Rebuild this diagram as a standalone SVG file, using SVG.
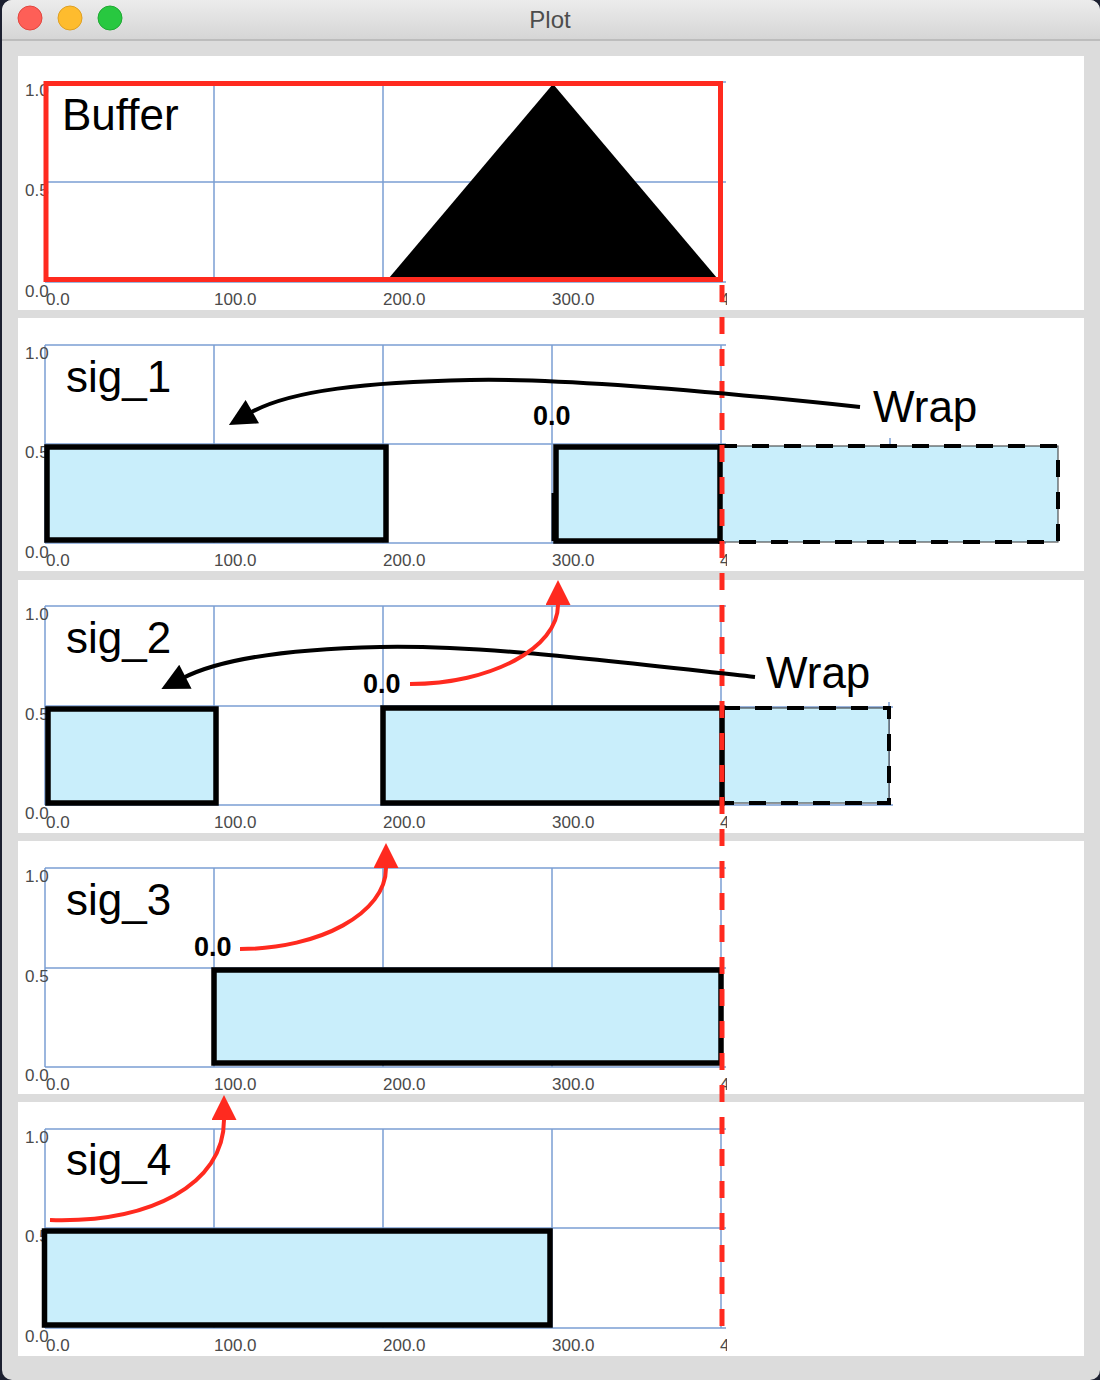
<svg xmlns="http://www.w3.org/2000/svg" width="1100" height="1380" viewBox="0 0 1100 1380">
<style>
.grid{stroke:#7b9fd3;stroke-width:1.5;fill:none}
.ax{font-family:"Liberation Sans",Arial,sans-serif;font-size:17px;fill:#4a4a4a}
.ttl{font-family:"Liberation Sans",Arial,sans-serif;font-size:44px;fill:#000}
.bold{font-family:"Liberation Sans",Arial,sans-serif;font-size:27px;font-weight:bold;fill:#000}
.panel{fill:#fff}
.sig{fill:#c9eefb;stroke:#000;stroke-width:5.5}
.ghost{fill:#c9eefb;stroke:#333;stroke-width:1}
.dash{fill:none;stroke:#000;stroke-width:4;stroke-dasharray:17 15}
.red{fill:none;stroke:#ff2a1f;stroke-width:4}
.blk{fill:none;stroke:#000;stroke-width:4}
</style>
<defs>
<linearGradient id="tb" x1="0" y1="0" x2="0" y2="1">
<stop offset="0" stop-color="#ececec"/>
<stop offset="1" stop-color="#d5d5d5"/>
</linearGradient>
<marker id="ra" viewBox="0 0 10 10" refX="0" refY="5" markerUnits="userSpaceOnUse" markerWidth="25" markerHeight="25" orient="auto">
<path d="M0,0 L10,5 L0,10 z" fill="#ff2a1f"/>
</marker>
<marker id="ba" viewBox="0 0 10 10" refX="1" refY="5" markerUnits="userSpaceOnUse" markerWidth="28" markerHeight="27" orient="auto">
<path d="M0,0 L10,5 L0,10 z" fill="#000"/>
</marker>
<clipPath id="cl"><rect x="0" y="0" width="727" height="1380"/></clipPath>
</defs>

<rect x="0" y="0" width="1100" height="1380" fill="#1c2030"/>
<rect x="2" y="0" width="1098" height="1380" rx="10" fill="#dcdcdc"/>
<path d="M2,40 V10 A10,10 0 0 1 12,0 H1090 A10,10 0 0 1 1100,10 V40 Z" fill="url(#tb)"/>
<line x1="2" y1="40" x2="1100" y2="40" stroke="#b3b3b3" stroke-width="1.5"/>
<circle cx="30" cy="18" r="12" fill="#fe5f57" stroke="#e2463f" stroke-width="1"/>
<circle cx="70" cy="18" r="12" fill="#febc2e" stroke="#dfa023" stroke-width="1"/>
<circle cx="110" cy="18" r="12" fill="#28c840" stroke="#1ea932" stroke-width="1"/>
<text x="550" y="28" text-anchor="middle" font-family="'Liberation Sans',Arial,sans-serif" font-size="24" fill="#4d4d4d">Plot</text>

<!-- Panel 1: Buffer -->
<g id="buffer">
<rect class="panel" x="18" y="56" width="1066" height="254"/>
<path class="grid" d="M45,82V282M214,82V282M383,82V282M552,82V282M721,82V282M45,82H726M45,182H726M45,282H726"/>
<text class="ax" x="25" y="96">1.0</text>
<text class="ax" x="25" y="196">0.5</text>
<text class="ax" x="25" y="297">0.0</text>
<text class="ax" x="46" y="305">0.0</text>
<text class="ax" x="214" y="305">100.0</text>
<text class="ax" x="383" y="305">200.0</text>
<text class="ax" x="552" y="305">300.0</text>
<text class="ax" x="720" y="305" clip-path="url(#cl)">4</text>
<polygon points="389,278 553,84 717,278" fill="#000"/>
<rect x="46" y="83.5" width="674.5" height="196" fill="none" stroke="#ff2a1f" stroke-width="5"/>
<text class="ttl" x="62" y="130">Buffer</text>
</g>

<!-- Panel 2: sig_1 -->
<g id="sig_1">
<rect class="panel" x="18" y="318" width="1066" height="253"/>
<path class="grid" d="M45,345V543M214,345V543M383,345V543M552,345V543M721,345V543M45,345H726M45,444H726M45,543H726M890,438V446"/>
<text class="ax" x="25" y="359">1.0</text>
<text class="ax" x="25" y="458">0.5</text>
<text class="ax" x="25" y="558">0.0</text>
<text class="ax" x="46" y="566">0.0</text>
<text class="ax" x="214" y="566">100.0</text>
<text class="ax" x="383" y="566">200.0</text>
<text class="ax" x="552" y="566">300.0</text>
<text class="ax" x="720" y="566" clip-path="url(#cl)">4</text>
<rect class="sig" x="47" y="447" width="339" height="93"/>
<rect class="ghost" x="720" y="446" width="338" height="96"/>
<rect class="dash" x="720" y="446" width="338" height="96"/>
<rect class="sig" x="556" y="447" width="164" height="94"/>
<line x1="553" y1="493" x2="553" y2="541" stroke="#000" stroke-width="3"/>
<text class="ttl" x="66" y="392">sig_1</text>
<text class="ttl" x="873" y="422">Wrap</text>
<text class="bold" x="533" y="425">0.0</text>
</g>

<!-- Panel 3: sig_2 -->
<g id="sig_2">
<rect class="panel" x="18" y="580" width="1066" height="253"/>
<path class="grid" d="M45,606V805M214,606V805M383,606V805M552,606V805M721,606V805M45,606H726M45,706H726M45,805H726M722,707H893M722,805H893M889,702V805"/>
<text class="ax" x="25" y="620">1.0</text>
<text class="ax" x="25" y="720">0.5</text>
<text class="ax" x="25" y="819">0.0</text>
<text class="ax" x="46" y="828">0.0</text>
<text class="ax" x="214" y="828">100.0</text>
<text class="ax" x="383" y="828">200.0</text>
<text class="ax" x="552" y="828">300.0</text>
<text class="ax" x="720" y="828" clip-path="url(#cl)">4</text>
<rect class="sig" x="48" y="709" width="168" height="94"/>
<rect class="ghost" x="723" y="708" width="166" height="95"/>
<rect class="dash" x="723" y="708" width="166" height="95"/>
<rect class="sig" x="383" y="708" width="339" height="95"/>
<text class="ttl" x="66" y="653">sig_2</text>
<text class="ttl" x="766" y="688">Wrap</text>
<text class="bold" x="363" y="693">0.0</text>
</g>

<!-- Panel 4: sig_3 -->
<g id="sig_3">
<rect class="panel" x="18" y="841" width="1066" height="253"/>
<path class="grid" d="M45,868V1067M214,868V1067M383,868V1067M552,868V1067M721,868V1067M45,868H726M45,968H726M45,1067H726"/>
<text class="ax" x="25" y="882">1.0</text>
<text class="ax" x="25" y="982">0.5</text>
<text class="ax" x="25" y="1081">0.0</text>
<text class="ax" x="46" y="1090">0.0</text>
<text class="ax" x="214" y="1090">100.0</text>
<text class="ax" x="383" y="1090">200.0</text>
<text class="ax" x="552" y="1090">300.0</text>
<text class="ax" x="720" y="1090" clip-path="url(#cl)">4</text>
<rect class="sig" x="214" y="970" width="507" height="93"/>
<text class="ttl" x="66" y="915">sig_3</text>
<text class="bold" x="194" y="956">0.0</text>
</g>

<!-- Panel 5: sig_4 -->
<g id="sig_4">
<rect class="panel" x="18" y="1102" width="1066" height="254"/>
<path class="grid" d="M45,1129V1328M214,1129V1328M383,1129V1328M552,1129V1328M721,1129V1328M45,1129H726M45,1228H726M45,1328H726"/>
<text class="ax" x="25" y="1143">1.0</text>
<text class="ax" x="25" y="1242">0.5</text>
<text class="ax" x="25" y="1342">0.0</text>
<text class="ax" x="46" y="1351">0.0</text>
<text class="ax" x="214" y="1351">100.0</text>
<text class="ax" x="383" y="1351">200.0</text>
<text class="ax" x="552" y="1351">300.0</text>
<text class="ax" x="720" y="1351" clip-path="url(#cl)">4</text>
<rect class="sig" x="44.5" y="1231" width="505.5" height="94"/>
<text class="ttl" x="66" y="1175">sig_4</text>
</g>

<!-- Connectors -->
<g id="connectors">
<line x1="722" y1="285" x2="722" y2="1330" stroke="#ff2a1f" stroke-width="5" stroke-dasharray="17 15"/>
<path class="blk" d="M860,407 C700,390 560,378 470,380 C370,382 290,390 250,413" marker-end="url(#ba)"/>
<path class="blk" d="M755,677 C600,660 480,645 380,647 C290,649 222,658 183,678" marker-end="url(#ba)"/>
<path class="red" d="M410,684 C491,684 558,648 558,605" marker-end="url(#ra)"/>
<path class="red" d="M240,949 C320,949 386,913 386,868" marker-end="url(#ra)"/>
<path class="red" d="M50,1220 C150,1223 224,1185 224,1120" marker-end="url(#ra)"/>
</g>
</svg>
